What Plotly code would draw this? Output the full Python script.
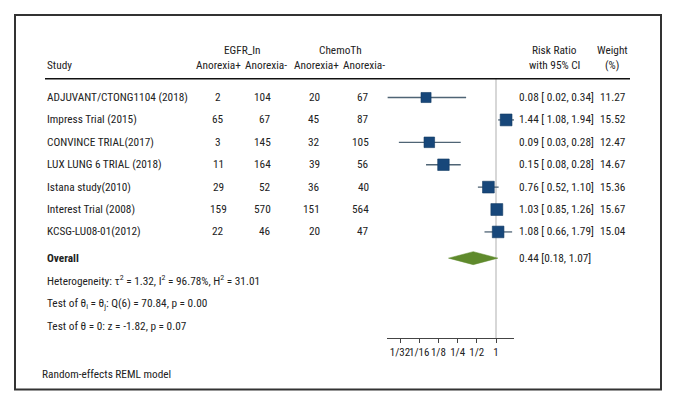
import math
import plotly.graph_objects as go

# ---------------- data ----------------
studies = ["ADJUVANT/CTONG1104 (2018)", "Impress Trial (2015)", "CONVINCE TRIAL(2017)",
           "LUX LUNG 6 TRIAL (2018)", "Istana study(2010)", "Interest Trial (2008)",
           "KCSG-LU08-01(2012)"]
egfr_pos = [2, 65, 3, 11, 29, 159, 22]
egfr_neg = [104, 67, 145, 164, 52, 570, 46]
chemo_pos = [20, 45, 32, 39, 36, 151, 20]
chemo_neg = [67, 87, 105, 56, 40, 564, 47]
rr = [0.08, 1.44, 0.09, 0.15, 0.76, 1.03, 1.08]
rr_lo = [0.02, 1.08, 0.03, 0.08, 0.52, 0.85, 0.66]
rr_hi = [0.34, 1.94, 0.28, 0.28, 1.10, 1.26, 1.79]
weight = [11.27, 15.52, 12.47, 14.67, 15.36, 15.67, 15.04]
overall = {"rr": 0.44, "lo": 0.18, "hi": 1.07}
tick_vals = [1/32, 1/16, 1/8, 1/4, 1/2, 1]
tick_text = ["1/32", "1/16", "1/8", "1/4", "1/2", "1"]

W, H = 677, 406
FONT = "Roboto Condensed, Liberation Sans Narrow, Arial Narrow, sans-serif"
FS = 11.3
TXT = "#222222"
NAVY = "#17477a"
GREEN = "#5f8a2c"

# row layout (row index -> vertical position via y axis)
Y_OVERALL = 7.17
Y_HET, Y_T1, Y_T2 = 8.19, 9.22, 10.24
Y_MODEL = 12.35
Y_H1, Y_H2 = -2.12, -1.41
Y_HLINE = -0.84
Y_AXIS = 10.74
Y_TOP, Y_BOT = -4.353, 13.77

def px(x):
    return x / W

fig = go.Figure()

rows = list(range(len(studies)))

# vertical reference line at RR = 1
fig.add_trace(go.Scatter(x=[1, 1], y=[Y_HLINE, Y_AXIS], mode="lines",
                         line=dict(color="#bdbdbd", width=1.2), hoverinfo="skip",
                         showlegend=False))

# CI lines
cx, cy = [], []
for i in rows:
    cx += [rr_lo[i], rr_hi[i], None]
    cy += [i, i, None]
fig.add_trace(go.Scatter(x=cx, y=cy, mode="lines", line=dict(color="#4f6475", width=1.3),
                         hoverinfo="skip", showlegend=False))

# study squares
fig.add_trace(go.Scatter(x=rr, y=rows, mode="markers",
                         marker=dict(symbol="square", color=NAVY, opacity=1,
                                     size=[3.0 * math.sqrt(w) for w in weight],
                                     line=dict(color="#123a63", width=0.6)),
                         showlegend=False, hoverinfo="skip"))

# overall diamond
hh = 0.29
fig.add_trace(go.Scatter(x=[overall["lo"], overall["rr"], overall["hi"], overall["rr"], overall["lo"]],
                         y=[Y_OVERALL, Y_OVERALL - hh, Y_OVERALL, Y_OVERALL + hh, Y_OVERALL],
                         mode="lines", fill="toself", fillcolor=GREEN,
                         line=dict(color=GREEN, width=0.5), showlegend=False, hoverinfo="skip"))

ann = []
def t(x, y, s, anchor="left", size=FS, bold=False):
    if bold:
        s = "<b>" + s + "</b>"
    ann.append(dict(x=px(x), y=y, xref="paper", yref="y", text=s, showarrow=False,
                    xanchor=anchor, yanchor="middle",
                    font=dict(family=FONT, size=size, color=TXT)))

# headers
t(242, Y_H1, "EGFR_In", "center")
t(340, Y_H1, "ChemoTh", "center")
t(554, Y_H1, "Risk Ratio", "center")
t(612, Y_H1, "Weight", "center")
t(45, Y_H2, "Study")
t(219, Y_H2, "Anorexia+", "center")
t(266, Y_H2, "Anorexia-", "center")
t(316, Y_H2, "Anorexia+", "center")
t(364, Y_H2, "Anorexia-", "center")
t(554, Y_H2, "with 95% CI", "center")
t(612, Y_H2, "(%)", "center")

for i in rows:
    t(45, i, studies[i])
    t(218, i, str(egfr_pos[i]), "center")
    t(273, i, str(egfr_neg[i]), "right")
    t(322, i, str(chemo_pos[i]), "right")
    t(371, i, str(chemo_neg[i]), "right")
    t(517, i, f"{rr[i]:.2f} [ {rr_lo[i]:.2f}, {rr_hi[i]:.2f}]")
    t(598, i, f"{weight[i]:.2f}")

t(45, Y_OVERALL, "Overall", bold=True)
t(517, Y_OVERALL, f"{overall['rr']:.2f} [{overall['lo']:.2f}, {overall['hi']:.2f}]")
t(45, Y_HET, "Heterogeneity: τ<sup>2</sup> = 1.32, I<sup>2</sup> = 96.78%, H<sup>2</sup> = 31.01")
t(45, Y_T1, "Test of θ<sub>i</sub> = θ<sub>j</sub>: Q(6) = 70.84, p = 0.00")
t(45, Y_T2, "Test of θ = 0: z = -1.82, p = 0.07")
t(40, Y_MODEL, "Random-effects REML model")

shapes = [
    dict(type="line", xref="paper", yref="y", x0=px(45), x1=px(630), y0=Y_HLINE, y1=Y_HLINE,
         line=dict(color="#111111", width=1.6)),
    dict(type="rect", xref="paper", yref="paper", x0=px(15), x1=px(661),
         y0=1 - 389.5 / H, y1=1 - 15 / H, line=dict(color="#333333", width=2)),
]

lo_log = -5 - (400 - 387) / 19.2
hi_log = (514 - 496) / 19.2
fig.update_layout(
    width=W, height=H, margin=dict(l=0, r=0, t=0, b=0),
    paper_bgcolor="white", plot_bgcolor="white",
    annotations=ann, shapes=shapes, showlegend=False,
    xaxis=dict(type="log", domain=[px(387), px(514)],
               range=[lo_log * math.log10(2), hi_log * math.log10(2)],
               tickvals=tick_vals, ticktext=tick_text, tickangle=0,
               showgrid=False, zeroline=False,
               showline=True, linecolor="#444444", linewidth=1,
               ticks="outside", ticklen=4, tickcolor="#444444",
               tickfont=dict(family=FONT, size=11, color=TXT),
               anchor="free", position=1 - 338 / H, fixedrange=True),
    yaxis=dict(range=[Y_BOT, Y_TOP], domain=[0, 1], visible=False, fixedrange=True),
)

fig.write_html("out.html", config={"displayModeBar": False},
               post_script="document.body.style.margin='0';document.body.style.overflow='hidden';")
